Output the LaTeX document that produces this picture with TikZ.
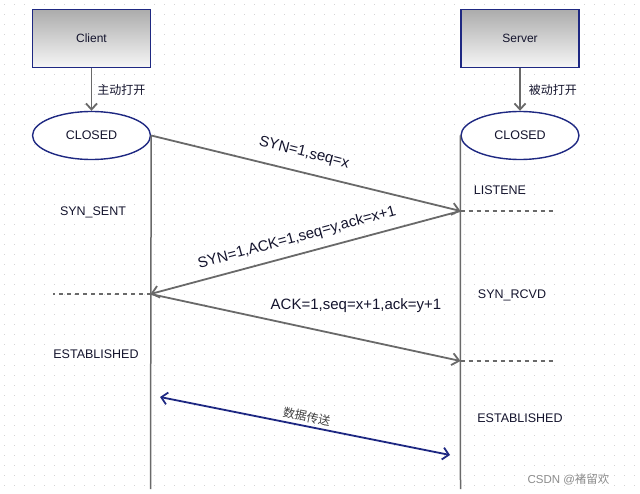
\documentclass[tikz,border=0pt]{standalone}
\usepackage{fontspec}
\setmainfont{Liberation Sans}
\newfontfamily\cjk{Noto Sans CJK SC}
\usetikzlibrary{arrows.meta,shapes.geometric}
\definecolor{navy}{RGB}{30,40,130}
\definecolor{linegray}{RGB}{105,105,105}
\definecolor{txt}{RGB}{20,20,45}
\definecolor{gridc}{RGB}{212,212,212}
\begin{document}
\begin{tikzpicture}[x=1pt,y=-1pt,
  font=\fontsize{12.5}{15}\selectfont, text=txt,
  actor/.style={draw=navy, line width=1.4pt, top color={rgb,255:red,172;green,172;blue,172},
    bottom color={rgb,255:red,246;green,246;blue,246}, minimum width=118pt, minimum height=58pt,
    inner sep=0pt, font=\fontsize{12}{14}\selectfont},
  state/.style={ellipse, draw=navy, line width=1.4pt, fill=white, minimum width=118pt,
    minimum height=48pt, inner sep=0pt},
  conn/.style={draw=linegray, line width=1.8pt, -{Straight Barb[length=6pt,width=11pt]}},
  life/.style={draw=linegray, line width=1.5pt},
  msg/.style={draw=linegray, line width=1.8pt, -{Straight Barb[length=7pt,width=12pt]}},
  dashline/.style={draw=linegray, line width=1.2pt, dash pattern=on 4pt off 4pt},
  msglabel/.style={font=\fontsize{15}{18}\selectfont, inner sep=0pt},
  datarrow/.style={draw=navy, line width=1.8pt, {Straight Barb[length=6pt,width=12pt]}-{Straight Barb[length=6pt,width=12pt]}},
  cjklabel/.style={font=\cjk\fontsize{12}{14}\selectfont, inner sep=0pt}
]
\useasboundingbox (0,0) rectangle (640,494);
\fill[white] (0,0) rectangle (640,494);
\foreach \yy in {5,15,...,495}
  \draw[gridc, line width=1pt, dash pattern=on 1pt off 9pt, dash phase=-4pt] (0,\yy) -- (640,\yy);

% actors
\node[actor] (client) at (91.5,38.5) {Client};
\node[actor] (server) at (520,38.5) {Server};
\node[state] (cclosed) at (91.5,135.5) {CLOSED};
\node[state] (sclosed) at (520,135.5) {CLOSED};

\draw[conn] (client) -- (cclosed) node[midway, anchor=west, xshift=5pt, cjklabel] (lb1) {主动打开};
\draw[conn] (server) -- (sclosed) node[midway, anchor=west, xshift=8pt, cjklabel] (lb2) {被动打开};

% lifelines
\coordinate (cend) at (150.5,489);
\coordinate (send) at (460.5,489);
\draw[life] (cclosed.east) -- (cend);
\draw[life] (sclosed.west) -- (send);

% message points
\coordinate (s1) at (460.5,211);
\coordinate (c2) at (150.5,294);
\coordinate (s3) at (460.5,361);
\coordinate (s1d) at (555,211);
\coordinate (c2d) at (53,294);
\coordinate (s3d) at (555,361);

\draw[dashline] (s1) -- (s1d);
\draw[dashline] (c2) -- (c2d);
\draw[dashline] (s3) -- (s3d);

\draw[msg] (cclosed.east) -- (s1);
\draw[msg] (s1) -- (c2);
\draw[msg] (c2) -- (s3);

\node[msglabel, rotate=-14.3] (m1) at (304,153) {SYN=1,seq=x};
\node[msglabel, rotate=15] (m2) at (297,238) {SYN=1,ACK=1,seq=y,ack=x+1};
\node[msglabel] (m3) at (356,306) {ACK=1,seq=x+1,ack=y+1};

% states
\node (ss) at (93,212) {SYN\_SENT};
\node (ce) at (96,354) {ESTABLISHED};
\node (li) at (500,190) {LISTENE};
\node (sr) at (512,295) {SYN\_RCVD};
\node (se) at (520,418) {ESTABLISHED};

% data transfer
\coordinate (d1) at (160,397);
\coordinate (d2) at (450,455);
\draw[datarrow] (d1) -- (d2) node[midway, sloped, above, cjklabel, inner sep=3pt, text=black!75] (dt) {数据传送};

% watermark
\node[text=black!45, font=\fontsize{11.5}{14}\selectfont, anchor=west] (wm) at (524,479) {CSDN @{\cjk 褚留欢}};
\end{tikzpicture}
\end{document}
